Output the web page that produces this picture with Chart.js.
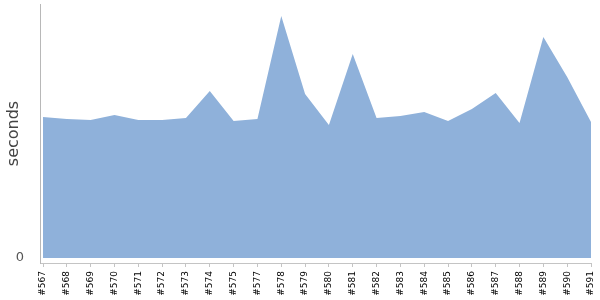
<!DOCTYPE html>
<html>
<head>
<meta charset="utf-8">
<script src="https://cdn.jsdelivr.net/npm/chart.js@4"></script>
<style>
  html, body { margin: 0; padding: 0; background: #fff; }
  #wrap { width: 600px; height: 300px; }
</style>
</head>
<body>
<div id="wrap"><canvas id="buildChart"></canvas></div>
<script>
const buildLabels = ['#567', '#568', '#569', '#570', '#571', '#572', '#573', '#574', '#575', '#577', '#578', '#579',
    '#580', '#581', '#582', '#583', '#584', '#585', '#586', '#587', '#588', '#589', '#590', '#591'];
const buildSeconds = [141, 139, 138, 143, 138, 138, 140, 167, 137, 139, 242, 164,
    133, 204, 140, 142, 146, 137, 149, 165, 135, 221, 181, 136];
const yTickValues = [0];

const points = buildSeconds.map((v, i) => ({ x: i, y: v }));

const ctx = document.getElementById('buildChart').getContext('2d');
const buildChart = new Chart(ctx, {
    type: 'line',
    data: {
        datasets: [{
            data: points,
            fill: 'origin',
            backgroundColor: 'rgb(143, 177, 218)',
            borderColor: 'rgb(143, 177, 218)',
            borderWidth: 0,
            pointRadius: 0,
            tension: 0
        }]
    },
    options: {
        responsive: true,
        maintainAspectRatio: false,
        animation: false,
        layout: { padding: { top: 4, right: 9, left: 0, bottom: 0 } },
        plugins: { legend: { display: false }, tooltip: { enabled: false } },
        scales: {
            x: {
                type: 'linear',
                min: -0.126,
                max: buildLabels.length - 1,
                afterBuildTicks: scale => { scale.ticks = buildLabels.map((_, i) => ({ value: i })); },
                afterFit: scale => {
                    scale.height = 37;
                    scale.paddingLeft = 0;
                    scale.paddingRight = 0;
                },
                grid: { drawOnChartArea: false, drawTicks: true, tickLength: 4, color: '#c4c4c4' },
                border: { display: true, color: '#c4c4c4' },
                ticks: {
                    autoSkip: false,
                    minRotation: 90,
                    maxRotation: 90,
                    padding: 4,
                    color: '#000',
                    font: { family: 'DejaVu Sans', size: 9 },
                    callback: value => buildLabels[value]
                }
            },
            y: {
                min: -5,
                max: 254,
                afterBuildTicks: scale => { scale.ticks = yTickValues.map(v => ({ value: v })); },
                afterFit: scale => {
                    scale.width = 40;
                    scale.paddingTop = 0;
                    scale.paddingBottom = 0;
                },
                grid: { display: false },
                border: { display: true, color: '#b8b8b8' },
                title: {
                    display: true,
                    text: 'seconds',
                    color: '#444',
                    font: { family: 'DejaVu Sans', size: 16 }
                },
                ticks: {
                    padding: 8,
                    color: '#555',
                    font: { family: 'DejaVu Sans', size: 13 }
                }
            }
        }
    }
});
</script>
</body>
</html>
